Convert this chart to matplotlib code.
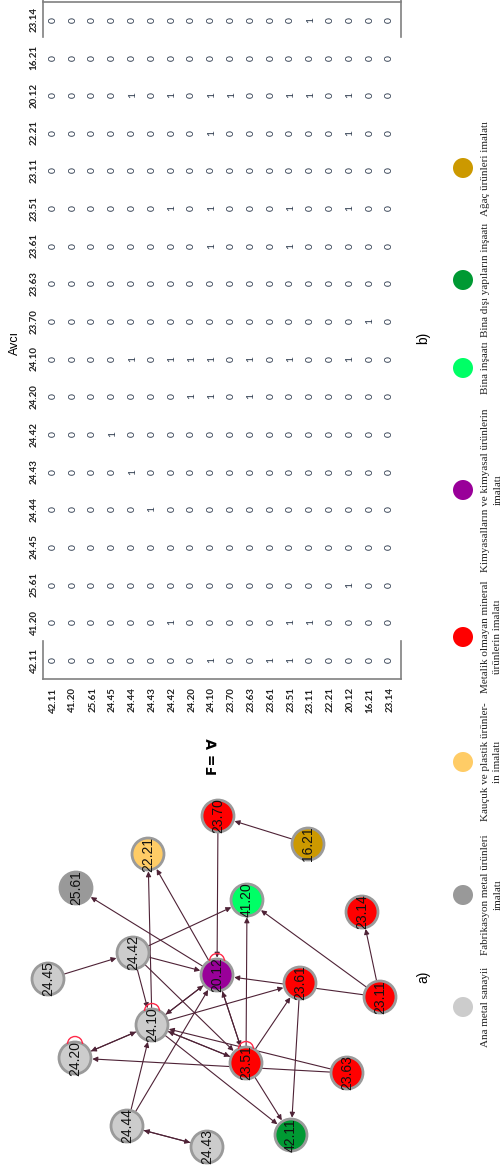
import matplotlib.pyplot as plt
from matplotlib.patches import Circle, Arc, FancyArrowPatch

W, H = 502, 1169

# NACE codes, same order for rows (av) and columns (avcı)
codes = ['42.11', '41.20', '25.61', '24.45', '24.44', '24.43', '24.42', '24.20', '24.10',
         '23.70', '23.63', '23.61', '23.51', '23.11', '22.21', '20.12', '16.21', '23.14']

# adjacency matrix, row -> column (1 = link)
matrix_rows = [
    '000000000000000000',  # 42.11
    '000000000000000000',  # 41.20
    '000000000000000000',  # 25.61
    '000000100000000000',  # 24.45
    '000001001000000100',  # 24.44
    '000010000000000000',  # 24.43
    '010000001000100100',  # 24.42
    '000000011000000000',  # 24.20
    '100000011001101100',  # 24.10
    '000000000000000100',  # 23.70
    '000000011000000000',  # 23.63
    '100000000000000000',  # 23.61
    '110000001001100100',  # 23.51
    '010000000000000101',  # 23.11
    '000000000000000000',  # 22.21
    '001000001000101100',  # 20.12
    '000000000100000000',  # 16.21
    '000000000000000000',  # 23.14
]

sector_line1 = ['Ana metal sanayii', 'Fabrikasyon metal ürünleri', 'Kauçuk ve plastik ürünler-',
                'Metalik olmayan mineral', 'Kimyasalların ve kimyasal ürünlerin', 'Bina inşaatı',
                'Bina dışı yapıların inşaatı', 'Ağaç ürünleri imalatı']
sector_line2 = ['', 'imalatı', 'in imalatı', 'ürünlerin imalatı', 'imalatı', '', '', '']
sector_colors = ['#cccccc', '#999999', '#ffcc66', '#ff0000', '#990099', '#00ff66', '#009933', '#cc9900']
legend_y = [1007, 895, 762, 637, 490, 368, 280, 168]

# sector index of each code
node_sector = [6, 5, 1, 0, 0, 0, 0, 0, 0, 3, 3, 3, 3, 3, 2, 4, 7, 3]

# graph layout (page pixels)
node_x = [291, 247, 76, 48, 127, 207, 133, 75, 152, 218, 347, 300, 246, 380, 148, 217, 308, 362]
node_y = [1135, 900, 888, 979, 1126, 1147, 953, 1058, 1025, 816, 1073, 983, 1063, 997, 854, 975, 844, 912]

fig = plt.figure(figsize=(W / 100, H / 100), dpi=100)
ax = fig.add_axes([0, 0, 1, 1])
ax.set_xlim(0, W)
ax.set_ylim(H, 0)
ax.axis('off')

# ---- b) matrix ----
x0, dx = 53, 19.8
y0, dy = 660, -37.65
num_col = '#2e3b4e'
for r, row in enumerate(matrix_rows):
    x = x0 + dx * r
    ax.text(x, 700, codes[r], rotation=90, ha='center', va='center',
            fontsize=7, fontweight='bold', family='Lato', color='#222222')
    for c, v in enumerate(row):
        ax.text(x, y0 + dy * c, v, rotation=90, ha='center', va='center',
                fontsize=7.5, family='Lato', color=num_col)
for c, code in enumerate(codes):
    ax.text(34, y0 + dy * c, code, rotation=90, ha='center', va='center',
            fontsize=7, fontweight='bold', family='Lato', color='#222222')

ax.text(15, 343, 'Avcı', rotation=90, ha='center', va='center', fontsize=9, family='Liberation Sans')

fc = '#808080'
ax.plot([43, 401], [1.5, 1.5], color=fc, lw=1.2)
ax.plot([43, 401], [679, 679], color=fc, lw=1.2)
for xx in (43, 401):
    ax.plot([xx, xx], [0, 37], color=fc, lw=1.2)
    ax.plot([xx, xx], [641, 679], color=fc, lw=1.2)

ax.text(423, 338, 'b)', rotation=90, ha='center', va='center', fontsize=10, family='Liberation Sans')
ax.text(213, 757, 'F= ∀', rotation=90, ha='center', va='center', fontsize=10,
        fontweight='bold', family='DejaVu Sans')

# ---- a) network ----
edge_col = '#4e2236'
node_r = 16
for r, row in enumerate(matrix_rows):
    for c, v in enumerate(row):
        if v != '1':
            continue
        if r == c:
            loop = Arc((node_x[r], node_y[r] - 14), 15, 15, theta1=180, theta2=360,
                       color='#ff2a4a', lw=1.0, zorder=4)
            ax.add_patch(loop)
            continue
        arr = FancyArrowPatch((node_x[r], node_y[r]), (node_x[c], node_y[c]),
                              arrowstyle='-|>', mutation_scale=7.5, shrinkA=0, shrinkB=12.5,
                              color=edge_col, lw=0.8, zorder=1)
        ax.add_patch(arr)

for i, code in enumerate(codes):
    ax.add_patch(Circle((node_x[i], node_y[i]), node_r, facecolor=sector_colors[node_sector[i]],
                        edgecolor='#9a9a9a', lw=2, zorder=3))
    ax.text(node_x[i], node_y[i], code, rotation=90, ha='center', va='center',
            fontsize=10, family='Liberation Sans', color='#111111', zorder=5)

ax.text(423, 977, 'a)', rotation=90, ha='center', va='center', fontsize=10, family='Liberation Sans')

# ---- legend ----
for k in range(len(sector_line1)):
    ax.add_patch(Circle((463, legend_y[k]), 10, facecolor=sector_colors[k], edgecolor='none'))
    ax.text(486, legend_y[k], sector_line1[k], rotation=90, ha='center', va='center',
            fontsize=8, family='Liberation Serif', color='#222222')
    if sector_line2[k]:
        ax.text(498, legend_y[k], sector_line2[k], rotation=90, ha='center', va='center',
                fontsize=8, family='Liberation Serif', color='#222222')

fig.savefig('out.png', dpi=100)
